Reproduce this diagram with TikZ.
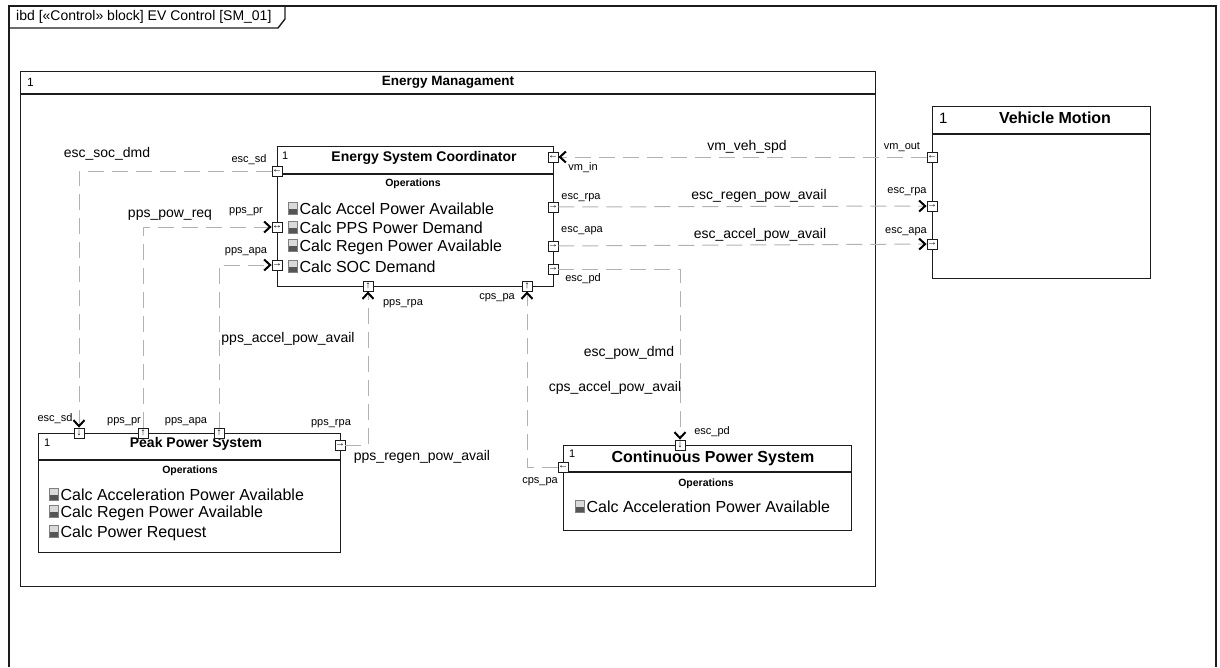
\documentclass[tikz,border=0pt]{standalone}
\usepackage{fontspec}
\setmainfont{Liberation Sans}
\usetikzlibrary{positioning, arrows.meta}
\definecolor{frameink}{HTML}{1C1C1C}
\definecolor{wire}{HTML}{B2B2B2}
\definecolor{iconlite}{HTML}{DADADA}
\definecolor{icondark}{HTML}{555555}
% small operation glyph in front of each operation
\newcommand{\opicon}{\begingroup\setlength{\fboxsep}{0pt}\setlength{\fboxrule}{0.7pt}%
  \raisebox{0.5pt}{\textcolor{gray}{\fbox{\rlap{\textcolor{iconlite}{\rule{8pt}{11pt}}}\textcolor{icondark}{\rule{8pt}{4.5pt}}}}}\endgroup}

\begin{document}
\begin{tikzpicture}[x=1pt, y=-1pt,
  block/.style={draw=frameink, line width=1.2pt, anchor=north west, inner sep=0pt},
  port/.style={draw=frameink, fill=white, line width=0.8pt, minimum size=10pt, inner sep=0pt, font=\fontsize{10}{10}\selectfont},
  flow/.style={draw=wire, line width=1pt, dash pattern=on 16pt off 8pt,
               -{Straight Barb[length=6pt,width=11pt,line width=2pt,color=black]}},
  title/.style={font=\bfseries\fontsize{14}{16}\selectfont},
  bigtitle/.style={font=\bfseries\fontsize{16}{18}\selectfont},
  opshead/.style={font=\bfseries\fontsize{10.5}{12}\selectfont},
  op/.style={anchor=west, inner sep=0pt, font=\fontsize{16}{18}\selectfont},
  mult/.style={anchor=west, inner sep=0pt, font=\fontsize{11}{13}\selectfont},
  lbl/.style={inner sep=0pt, font=\fontsize{14}{16}\selectfont},
  plbl/.style={inner sep=0pt, font=\fontsize{11}{13}\selectfont}]
  \useasboundingbox (0,0) rectangle (1220,667);

  % diagram frame
  \draw[frameink, line width=2.6pt] (9,667) -- (9,6) -- (1216,6) -- (1216,667);
  \draw[frameink, line width=1.4pt] (9,28) -- (278,28) -- (285,19) -- (285,6);
  \node[anchor=west, inner sep=0pt, font=\fontsize{14}{16}\selectfont] (frametitle) at (16,17)
    {ibd [«Control» block] EV Control [SM\_01]};

  % blocks
  \node[block, minimum width=855pt, minimum height=515pt] (em) at (20,71) {};
  \draw[frameink, line width=1.2pt] ([yshift=-23pt]em.north west) -- ([yshift=-23pt]em.north east);
  \node[mult, font=\fontsize{12}{14}\selectfont] (emmult) at (27,82) {1};
  \node[title, font=\bfseries\fontsize{13.5}{15}\selectfont] (emtitle) at (448,82) {Energy Managament};

  \node[block, minimum width=276pt, minimum height=140pt] (esc) at (277,146) {};
  \draw[frameink, line width=1.2pt] ([yshift=-28pt]esc.north west) -- ([yshift=-28pt]esc.north east);
  \node[mult] (escmult) at (282,156) {1};
  \node[title] (esctitle) at (424,158) {Energy System Coordinator};
  \node[opshead] (escops) at (413,184) {Operations};
  \node[op] (escop1) at (288,208) {\opicon\hspace{2pt}Calc Accel Power Available};
  \node[op] (escop2) at (288,227) {\opicon\hspace{2pt}Calc PPS Power Demand};
  \node[op] (escop3) at (288,247) {\opicon\hspace{2pt}Calc Regen Power Available};
  \node[op] (escop4) at (288,266) {\opicon\hspace{2pt}Calc SOC Demand};

  \node[block, minimum width=218pt, minimum height=172pt] (vm) at (932,106) {};
  \draw[frameink, line width=1.2pt] ([yshift=-28pt]vm.north west) -- ([yshift=-28pt]vm.north east);
  \node[mult, font=\fontsize{15}{17}\selectfont] (vmmult) at (939,118) {1};
  \node[bigtitle] (vmtitle) at (1055,118) {Vehicle Motion};

  \node[block, minimum width=302pt, minimum height=119pt] (pps) at (38,433) {};
  \draw[frameink, line width=1.2pt] ([yshift=-27pt]pps.north west) -- ([yshift=-27pt]pps.north east);
  \node[mult] (ppsmult) at (44,443) {1};
  \node[title] (ppstitle) at (196,444) {Peak Power System};
  \node[opshead] (ppsops) at (190,471) {Operations};
  \node[op] (ppsop1) at (49,494) {\opicon\hspace{2pt}Calc Acceleration Power Available};
  \node[op] (ppsop2) at (49,513) {\opicon\hspace{2pt}Calc Regen Power Available};
  \node[op] (ppsop3) at (49,533) {\opicon\hspace{2pt}Calc Power Request};

  \node[block, minimum width=288pt, minimum height=85pt] (cps) at (563,445) {};
  \draw[frameink, line width=1.2pt] ([yshift=-27pt]cps.north west) -- ([yshift=-27pt]cps.north east);
  \node[mult] (cpsmult) at (569,454) {1};
  \node[bigtitle] (cpstitle) at (713,458) {Continuous Power System};
  \node[opshead] (cpsops) at (706,484) {Operations};
  \node[op] (cpsop1) at (575,506) {\opicon\hspace{2pt}Calc Acceleration Power Available};

  % ports
  \node[port] (escSd)    at (277,171) {←};
  \node[port] (escPr)    at (277,227) {↔};
  \node[port] (escApaIn) at (277,265) {→};
  \node[port] (escVmIn)  at (553,157) {←};
  \node[port] (escRpa)   at (553,207) {→};
  \node[port] (escApa)   at (553,246) {→};
  \node[port] (escPd)    at (553,269) {→};
  \node[port] (escRpaIn) at (368,286) {↑};
  \node[port] (escCpaIn) at (527,286) {↑};
  \node[port] (vmOut)    at (932,157) {←};
  \node[port] (vmRpa)    at (932,206) {→};
  \node[port] (vmApa)    at (932,244) {→};
  \node[port] (ppsSd)    at (79,433)  {↓};
  \node[port] (ppsPr)    at (143,433) {↑};
  \node[port] (ppsApa)   at (219,433) {↑};
  \node[port] (ppsRpa)   at (340,445) {→};
  \node[port] (cpsPd)    at (680,445) {↓};
  \node[port] (cpsPa)    at (563,467) {←};

  % connectors
  \draw[flow] (escSd) -| (ppsSd);
  \draw[flow] (ppsPr) |- (escPr);
  \draw[flow] (ppsApa) |- (escApaIn);
  \draw[flow] (ppsRpa) -| (escRpaIn);
  \draw[flow] (cpsPa) -| (escCpaIn);
  \draw[flow] (escPd) -| (cpsPd);
  \draw[flow] (vmOut) -- (escVmIn);
  \draw[flow] (escRpa) -- (vmRpa);
  \draw[flow] (escApa) -- (vmApa);

  % connector names
  \node[lbl] (nSoc)    at (107,154) {esc\_soc\_dmd};
  \node[lbl] (nPowReq) at (170,215) {pps\_pow\_req};
  \node[lbl] (nPpsAcc) at (288,339) {pps\_accel\_pow\_avail};
  \node[lbl] (nPpsReg) at (422,457) {pps\_regen\_pow\_avail};
  \node[lbl] (nCpsAcc) at (615,388) {cps\_accel\_pow\_avail};
  \node[lbl] (nPowDmd) at (629,353) {esc\_pow\_dmd};
  \node[lbl] (nVehSpd) at (747,147) {vm\_veh\_spd};
  \node[lbl] (nEscReg) at (759,196) {esc\_regen\_pow\_avail};
  \node[lbl] (nEscAcc) at (760,235) {esc\_accel\_pow\_avail};

  % port names
  \node[plbl] (lEscSd)    at (249,160) {esc\_sd};
  \node[plbl] (lEscPr)    at (246,212) {pps\_pr};
  \node[plbl] (lEscApa)   at (246,252) {pps\_apa};
  \node[plbl] (lEscVm)    at (583,168) {vm\_in};
  \node[plbl] (lEscRpa)   at (581,198) {esc\_rpa};
  \node[plbl] (lEscApaO)  at (582,231) {esc\_apa};
  \node[plbl] (lEscPd)    at (583,279) {esc\_pd};
  \node[plbl] (lEscRpaIn) at (403,304) {pps\_rpa};
  \node[plbl] (lEscCpaIn) at (497,298) {cps\_pa};
  \node[plbl] (lVmOut)    at (902,147) {vm\_out};
  \node[plbl] (lVmRpa)    at (907,192) {esc\_rpa};
  \node[plbl] (lVmApa)    at (906,232) {esc\_apa};
  \node[plbl] (lPpsSd)    at (55,419)  {esc\_sd};
  \node[plbl] (lPpsPr)    at (124,422) {pps\_pr};
  \node[plbl] (lPpsApa)   at (186,422) {pps\_apa};
  \node[plbl] (lPpsRpa)   at (331,424) {pps\_rpa};
  \node[plbl] (lCpsPd)    at (712,432) {esc\_pd};
  \node[plbl] (lCpsPa)    at (540,482) {cps\_pa};
\end{tikzpicture}
\end{document}
